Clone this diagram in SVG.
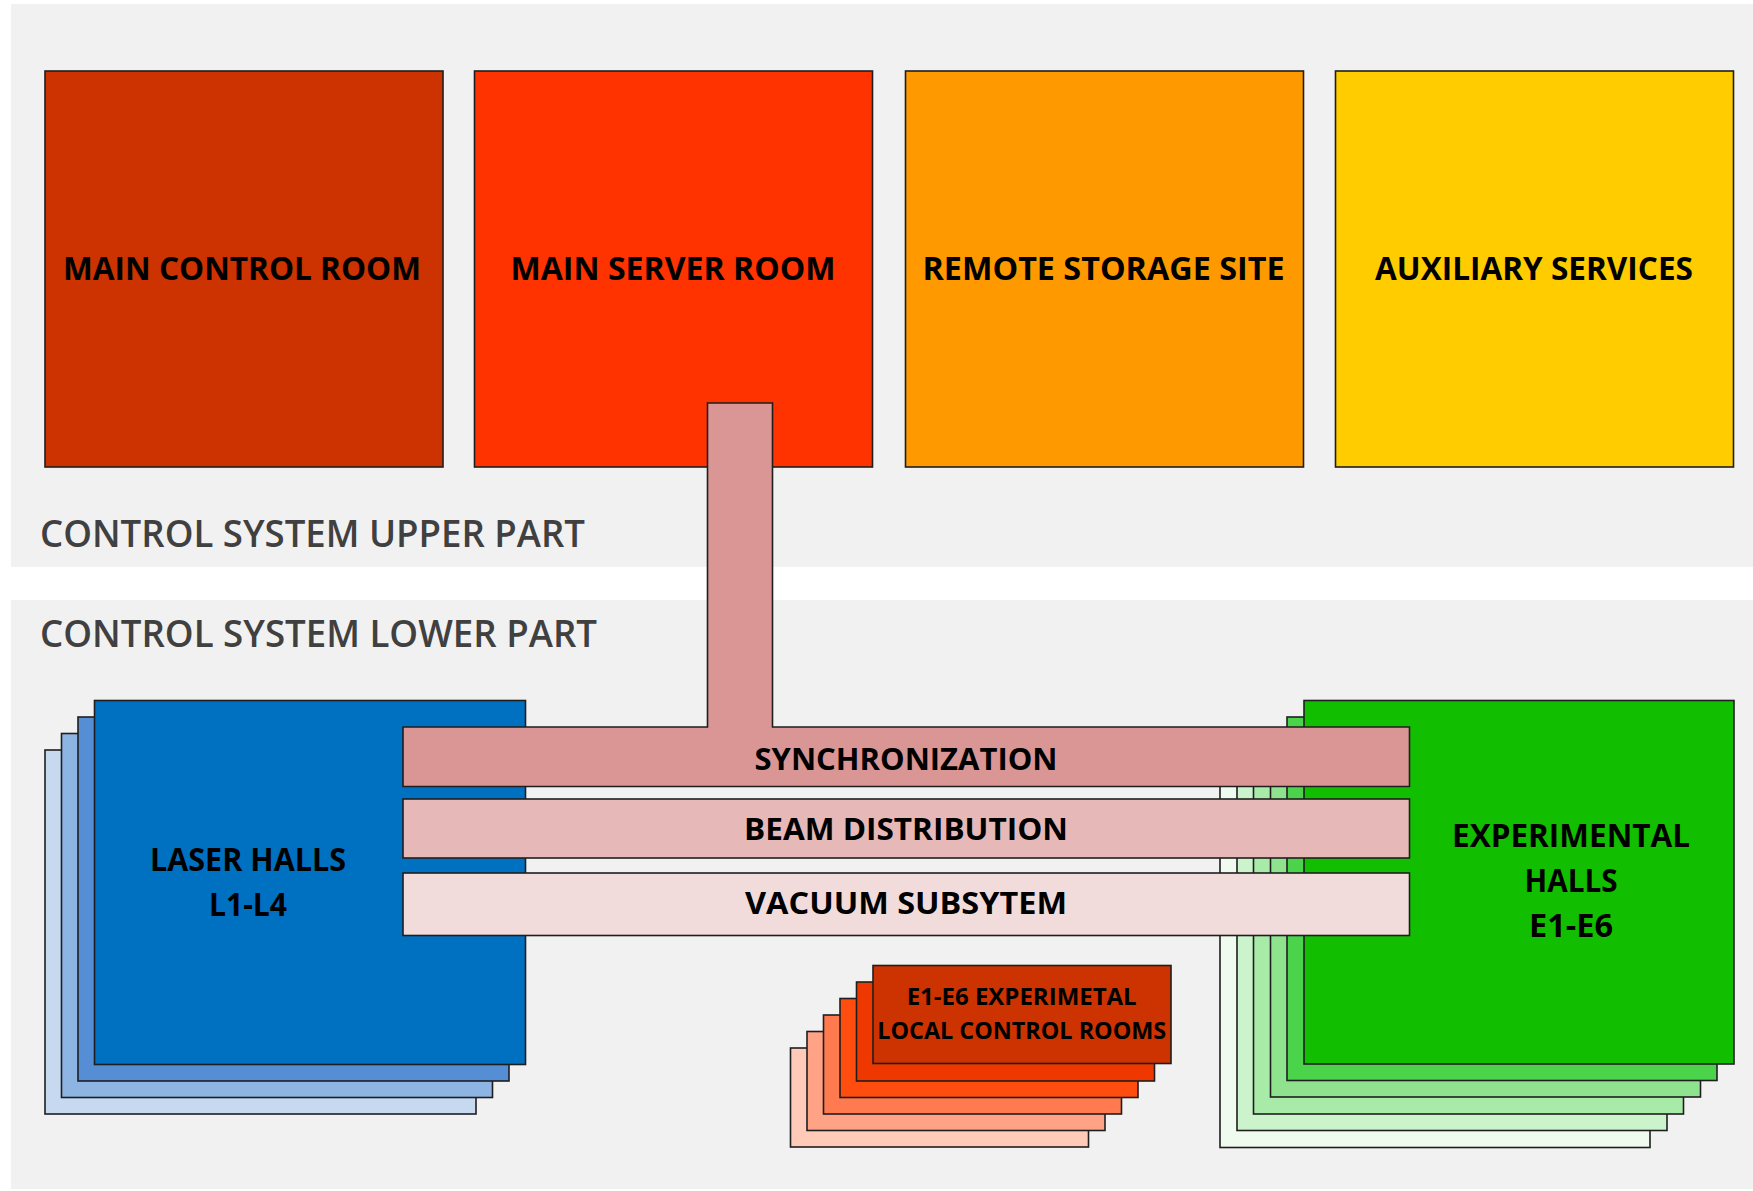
<svg xmlns="http://www.w3.org/2000/svg" width="1753" height="1191" viewBox="0 0 1753 1191">
  <style>
    .panel { fill: #f1f1f1; stroke: none; }
    .box { stroke: #1e1e1e; stroke-width: 1.6; }
    .lbl { font-family: "Open Sans", "Liberation Sans", sans-serif; font-weight: 700; fill: #000; text-anchor: middle; }
    .big { font-size: 32px; }
    .bar { font-size: 29.5px; }
    .small { font-size: 22.5px; }
    .title { font-family: "Open Sans", "Liberation Sans", sans-serif; font-weight: 600; font-size: 37px; fill: #404040; }
  </style>

  <!-- background panels -->
  <rect x="0" y="0" width="1753" height="1191" fill="#ffffff"/>
  <rect class="panel" x="11" y="4" width="1742" height="563"/>
  <rect class="panel" x="11" y="600" width="1742" height="589"/>

  <g id="title-upper">
    <text class="title" x="40" y="546.7" textLength="545" lengthAdjust="spacingAndGlyphs">CONTROL SYSTEM UPPER PART</text>
  </g>
  <g id="title-lower">
    <text class="title" x="40" y="646.7" textLength="557" lengthAdjust="spacingAndGlyphs">CONTROL SYSTEM LOWER PART</text>
  </g>

  <!-- upper part: four site blocks -->
  <g id="main-control-room">
    <rect class="box" x="45" y="71" width="398" height="396" fill="#cc3300"/>
    <text class="lbl big" x="242" y="279.5" textLength="358" lengthAdjust="spacingAndGlyphs">MAIN CONTROL ROOM</text>
  </g>
  <g id="main-server-room">
    <rect class="box" x="474.5" y="71" width="398" height="396" fill="#ff3300"/>
    <text class="lbl big" x="673" y="279.5" textLength="325" lengthAdjust="spacingAndGlyphs">MAIN SERVER ROOM</text>
  </g>
  <g id="remote-storage-site">
    <rect class="box" x="905.5" y="71" width="398" height="396" fill="#ff9900"/>
    <text class="lbl big" x="1103.5" y="279.5" textLength="362" lengthAdjust="spacingAndGlyphs">REMOTE STORAGE SITE</text>
  </g>
  <g id="auxiliary-services">
    <rect class="box" x="1335.5" y="71" width="398" height="396" fill="#ffcc00"/>
    <text class="lbl big" x="1534" y="279.5" textLength="318" lengthAdjust="spacingAndGlyphs">AUXILIARY SERVICES</text>
  </g>

  <!-- laser halls: stacked sheets, back to front -->
  <g id="laser-halls">
    <rect class="box" x="45" y="750" width="431" height="364" fill="#c6d9f1"/>
    <rect class="box" x="61.5" y="733.5" width="431" height="364" fill="#8eb4e3"/>
    <rect class="box" x="78" y="717" width="431" height="364" fill="#558ed5"/>
    <rect class="box" x="94.5" y="700.5" width="431" height="364" fill="#0070c0"/>
    <text class="lbl big" x="248" y="870.7" textLength="196" lengthAdjust="spacingAndGlyphs">LASER HALLS</text>
    <text class="lbl big" x="248" y="915.7" textLength="78" lengthAdjust="spacingAndGlyphs">L1-L4</text>
  </g>

  <!-- experimental halls: stacked sheets, back to front -->
  <g id="experimental-halls">
    <rect class="box" x="1220" y="784" width="430" height="363.5" fill="#f0fbf0"/>
    <rect class="box" x="1237" y="767" width="430" height="363.5" fill="#ccf4cc"/>
    <rect class="box" x="1253.5" y="750.5" width="430" height="363.5" fill="#a8eaa8"/>
    <rect class="box" x="1270.5" y="733.5" width="430" height="363.5" fill="#8fe38f"/>
    <rect class="box" x="1287" y="717" width="430" height="363.5" fill="#4cd34c"/>
    <rect class="box" x="1304" y="700.5" width="430" height="363.5" fill="#12bf00"/>
    <text class="lbl big" x="1571" y="847.3" textLength="238" lengthAdjust="spacingAndGlyphs">EXPERIMENTAL</text>
    <text class="lbl big" x="1571" y="892.3" textLength="93" lengthAdjust="spacingAndGlyphs">HALLS</text>
    <text class="lbl big" x="1571" y="937.3" textLength="84" lengthAdjust="spacingAndGlyphs">E1-E6</text>
  </g>

  <!-- local control rooms: stacked sheets, back to front -->
  <g id="local-control-rooms">
    <rect class="box" x="790.5" y="1048" width="298" height="99" fill="#ffcbb8"/>
    <rect class="box" x="807" y="1031.5" width="298" height="99" fill="#ffa286"/>
    <rect class="box" x="823.5" y="1015" width="298" height="99" fill="#ff7a4f"/>
    <rect class="box" x="840" y="998.5" width="298" height="99" fill="#ff4d10"/>
    <rect class="box" x="856.5" y="982" width="298" height="99" fill="#ee3800"/>
    <rect class="box" x="873" y="965.5" width="298" height="98" fill="#cc3300"/>
    <text class="lbl small" x="1021.7" y="1005.3" textLength="230" lengthAdjust="spacingAndGlyphs">E1-E6 EXPERIMETAL</text>
    <text class="lbl small" x="1021.7" y="1039.3" textLength="289" lengthAdjust="spacingAndGlyphs">LOCAL CONTROL ROOMS</text>
  </g>

  <!-- shared subsystem bars; synchronization rises into the server room -->
  <g id="synchronization">
    <path class="box" d="M403,727 H707.5 V403 H772.5 V727 H1409.5 V786.5 H403 Z" fill="#d99694"/>
    <text class="lbl bar" x="906" y="770" textLength="303" lengthAdjust="spacingAndGlyphs">SYNCHRONIZATION</text>
  </g>
  <g id="beam-distribution">
    <rect class="box" x="403" y="799" width="1006.5" height="59" fill="#e6b9b8"/>
    <text class="lbl bar" x="906" y="839.6" textLength="324" lengthAdjust="spacingAndGlyphs">BEAM DISTRIBUTION</text>
  </g>
  <g id="vacuum-subsystem">
    <rect class="box" x="403" y="873" width="1006.5" height="62.5" fill="#f2dcdb"/>
    <text class="lbl bar" x="906" y="914" textLength="322" lengthAdjust="spacingAndGlyphs">VACUUM SUBSYTEM</text>
  </g>
</svg>
